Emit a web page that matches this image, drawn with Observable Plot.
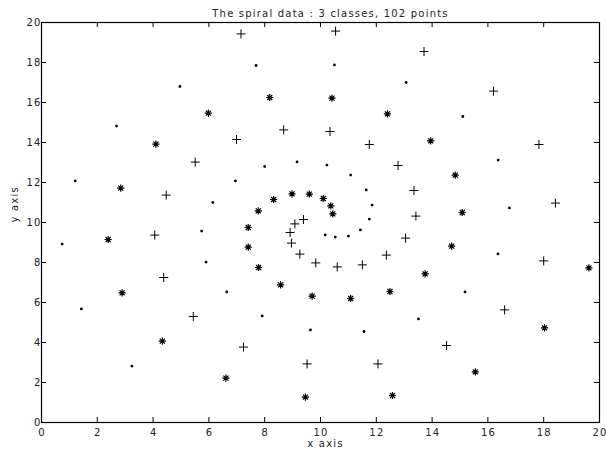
<!DOCTYPE html>
<html><head><meta charset="utf-8">
<script src="https://cdn.jsdelivr.net/npm/d3@7"></script>
<script src="https://cdn.jsdelivr.net/npm/@observablehq/plot@0.6"></script>
<style>body{margin:0;background:#fff} svg text{letter-spacing:1.2px}</style>
</head><body><div id="chart"></div>
<script>
const title = "The spiral data : 3 classes, 102 points";
const xLabel = "x axis";
const yLabel = "y axis";
const xTicks = [0, 2, 4, 6, 8, 10, 12, 14, 16, 18, 20];
const yTicks = [0, 2, 4, 6, 8, 10, 12, 14, 16, 18, 20];

// class 1 (dots)
const dotX = [10.17, 10.53, 11.0, 11.43, 11.75, 11.85, 11.64, 11.08, 10.23, 9.16, 8.0, 6.95, 6.14, 5.74, 5.9, 6.64, 7.91, 9.64, 11.56, 13.51, 15.18, 16.36, 16.77, 16.37, 15.1, 13.07, 10.5, 7.69, 4.96, 2.69, 1.21, 0.74, 1.43, 3.24];
const dotY = [9.38, 9.27, 9.32, 9.63, 10.17, 10.87, 11.63, 12.37, 12.87, 13.03, 12.8, 12.08, 11.0, 9.57, 8.02, 6.53, 5.33, 4.63, 4.55, 5.18, 6.53, 8.43, 10.73, 13.12, 15.3, 17.0, 17.88, 17.85, 16.8, 14.82, 12.08, 8.92, 5.68, 2.82];

// class 2 (plus)
const plusX = [9.39, 9.08, 8.91, 8.96, 9.26, 9.83, 10.6, 11.5, 12.36, 13.05, 13.42, 13.35, 12.78, 11.75, 10.34, 8.68, 6.99, 5.51, 4.47, 4.06, 4.38, 5.44, 7.24, 9.52, 12.06, 14.52, 16.6, 18.0, 18.42, 17.83, 16.2, 13.71, 10.54, 7.15];
const plusY = [10.15, 9.93, 9.5, 8.97, 8.42, 7.98, 7.78, 7.88, 8.37, 9.22, 10.32, 11.6, 12.85, 13.9, 14.55, 14.63, 14.15, 13.02, 11.37, 9.37, 7.25, 5.3, 3.77, 2.93, 2.93, 3.85, 5.63, 8.08, 10.97, 13.9, 16.57, 18.55, 19.57, 19.43];

// class 3 (asterisks)
const starX = [10.44, 10.37, 10.1, 9.6, 8.98, 8.32, 7.77, 7.41, 7.41, 7.78, 8.57, 9.7, 11.08, 12.49, 13.75, 14.7, 15.08, 14.83, 13.95, 12.4, 10.41, 8.18, 5.98, 4.1, 2.84, 2.39, 2.89, 4.33, 6.61, 9.46, 12.58, 15.55, 18.03, 19.62];
const starY = [10.43, 10.83, 11.2, 11.42, 11.43, 11.15, 10.58, 9.75, 8.77, 7.75, 6.88, 6.32, 6.2, 6.55, 7.43, 8.82, 10.5, 12.37, 14.08, 15.43, 16.22, 16.25, 15.47, 13.92, 11.72, 9.15, 6.48, 4.07, 2.22, 1.27, 1.35, 2.53, 4.73, 7.73];

const rows = (xs, ys) => xs.map((x, i) => ({x, y: ys[i]}));

const plusSymbol = {
  draw(ctx, size) {
    const r = Math.sqrt(size / Math.PI);
    ctx.moveTo(-r, 0); ctx.lineTo(r, 0);
    ctx.moveTo(0, -r); ctx.lineTo(0, r);
  }
};
const starSymbol = {
  draw(ctx, size) {
    const r = Math.sqrt(size / Math.PI);
    const d = r * Math.SQRT1_2;
    ctx.moveTo(-r, 0); ctx.lineTo(r, 0);
    ctx.moveTo(0, -r); ctx.lineTo(0, r);
    ctx.moveTo(-d, -d); ctx.lineTo(d, d);
    ctx.moveTo(-d, d); ctx.lineTo(d, -d);
  }
};

const inner = xTicks.slice(1, -1);
const innerY = yTicks.slice(1, -1);

const chart = Plot.plot({
  width: 606,
  height: 455,
  marginLeft: 41,
  marginRight: 7,
  marginTop: 22,
  marginBottom: 33,
  style: {fontFamily: "'DejaVu Sans', sans-serif", fontSize: "10px", background: "#fff", color: "#000"},
  x: {domain: [0, 20], axis: null},
  y: {domain: [0, 20], axis: null},
  marks: [
    Plot.frame({stroke: "black", strokeWidth: 1.2}),
    Plot.tickX(inner, {x: d => d, insetTop: 395, stroke: "black"}),
    Plot.tickX(inner, {x: d => d, insetBottom: 395, stroke: "black"}),
    Plot.tickY(innerY, {y: d => d, insetRight: 553, stroke: "black"}),
    Plot.tickY(innerY, {y: d => d, insetLeft: 553, stroke: "black"}),
    Plot.axisX(xTicks, {tickSize: 0, tickPadding: 6, label: null, fill: "#222", dx: 0.6}),
    Plot.axisY(yTicks, {tickSize: 0, tickPadding: 1, label: null, fill: "#222", dx: 1}),
    Plot.text([xLabel], {text: d => d, frameAnchor: "bottom", dy: 24, dx: 5, fill: "#222"}),
    Plot.text([yLabel], {text: d => d, frameAnchor: "left", rotate: -90, dx: -27, fill: "#222"}),
    Plot.text([title], {text: d => d, frameAnchor: "top", dy: -13, dx: 10, fill: "#222"}),
    Plot.dot(rows(dotX, dotY), {x: "x", y: "y", r: 1.4, fill: "black", stroke: "none"}),
    Plot.dot(rows(plusX, plusY), {x: "x", y: "y", r: 4.5, symbol: plusSymbol, fill: "none", stroke: "black", strokeWidth: 1}),
    Plot.dot(rows(starX, starY), {x: "x", y: "y", r: 3.6, symbol: starSymbol, fill: "none", stroke: "black", strokeWidth: 1.2})
  ]
});
document.getElementById("chart").appendChild(chart);
</script>
</body></html>
